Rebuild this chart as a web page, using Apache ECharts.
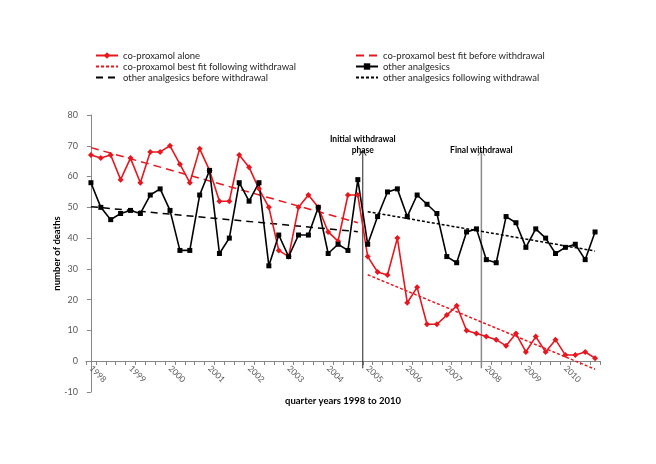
<!DOCTYPE html>
<html>
<head>
<meta charset="utf-8">
<script src="https://cdn.jsdelivr.net/npm/echarts@6/dist/echarts.min.js"></script>
<style>html,body{margin:0;padding:0;background:#fff;}#c{width:656px;height:464px;}</style>
</head>
<body>
<div id="c"></div>
<script>
const years = ['1998','1999','2000','2001','2002','2003','2004','2005','2006','2007','2008','2009','2010'];
const quarters = ['Q1','Q2','Q3','Q4'];
const categories = years.flatMap(y => quarters.map(q => y + ' ' + q));

const coproxamolAlone = [67,66,67,59,66,58,68,68,70,64,58,69,62,52,52,67,63,56,50,36,34,50,54,50,42,39,54,54,
  34,29,28,40,19,24,12,12,15,18,10,9,8,7,5,9,3,8,3,7,2,2,3,1];
const otherAnalgesics = [58,50,46,48,49,48,54,56,49,36,36,54,62,35,40,58,52,58,31,41,34,41,41,50,35,38,36,59,
  38,47,55,56,47,54,51,48,34,32,42,43,33,32,47,45,37,43,40,35,37,38,33,42];

// trend-line end points (quarter index, value)
const fitXBefore = [0, 27];
const fitXAfter = [28, 51];
const coproxFitBefore = [69.4, 45.0];
const coproxFitAfter = [28.1, -2.6];
const otherFitBefore = [50.2, 42.1];
const otherFitAfter = [48.6, 35.8];

// withdrawal markers (position between quarters, bottom & top value)
const initialX = 27.5, finalX = 39.5;
const markerY = [-2.3, 67.6];
const initialLabel = 'Initial withdrawal\nphase';
const finalLabel = 'Final withdrawal';

const FONT = 'Lato';
const RED = '#E8161E';
const pairs = (xs, ys) => xs.map((x, i) => [x, ys[i]]);

function marker(x, label, color, width) {
  return {
    type: 'line', xAxisIndex: 1, silent: true, z: 1,
    lineStyle: { color: color, width: width },
    symbol: 'none',
    data: [
      { value: [x, markerY[0]], symbol: 'none' },
      { value: [x, markerY[1]], symbol: 'path://M0,7 L5,0 L10,7', symbolSize: [7, 5],
        itemStyle: { color: 'rgba(0,0,0,0)', borderColor: color, borderWidth: 1 },
        label: { show: true, position: 'top', distance: -6, formatter: label, color: '#000',
          fontFamily: FONT, fontWeight: 'bold', fontSize: 8.5, lineHeight: 11, align: 'center' } }
    ]
  };
}

const noSym = { color: 'rgba(0,0,0,0)', borderColor: 'rgba(0,0,0,0)', borderWidth: 0, opacity: 0 };
const chart = echarts.init(document.getElementById('c'), null, { renderer: 'canvas' });
const legendText = { fontFamily: FONT, fontSize: 9.5, color: '#262626', lineHeight: 11 };
chart.setOption({
  animation: false,
  backgroundColor: '#fff',
  legend: [
    { left: 95, top: 50, padding: 0, orient: 'vertical', itemWidth: 22, itemHeight: 8, itemGap: 0, textStyle: legendText,
      data: ['co-proxamol alone',
        { name: 'co-proxamol best fit following withdrawal', itemStyle: noSym },
        { name: 'other analgesics before withdrawal', itemStyle: noSym }] },
    { left: 355, top: 50, padding: 0, orient: 'vertical', itemWidth: 22, itemHeight: 8, itemGap: 0, textStyle: legendText,
      data: [{ name: 'co-proxamol best fit before withdrawal', itemStyle: noSym },
        'other analgesics',
        { name: 'other analgesics following withdrawal', itemStyle: noSym }] }
  ],
  grid: { left: 86, right: 56, top: 115, bottom: 72, containLabel: false, outerBoundsMode: 'none' },
  xAxis: [
    { type: 'category', data: categories, boundaryGap: true, position: 'bottom', offset: -31,
      axisLine: { onZero: false, lineStyle: { color: '#868686' } },
      axisTick: { show: true, interval: 0, length: 4, lineStyle: { color: '#868686' } },
      axisLabel: { interval: 0, rotate: -45, margin: 6, fontFamily: FONT, fontSize: 8.5, color: '#595959',
        formatter: (v, i) => (i % 4 === 0 ? years[i / 4] : '') },
      name: 'quarter years 1998 to 2010', nameLocation: 'middle', nameGap: 35, nameMoveOverlap: false,
      nameTextStyle: { fontFamily: FONT, fontWeight: 'bold', fontSize: 9.5, color: '#000' } },
    { type: 'value', min: -0.5, max: 51.5, show: false }
  ],
  yAxis: {
    type: 'value', min: -10, max: 80, interval: 10,
    axisLine: { show: true, lineStyle: { color: '#868686' } },
    axisTick: { show: true, length: 4, lineStyle: { color: '#868686' } },
    splitLine: { show: false },
    axisLabel: { fontFamily: FONT, fontSize: 9, color: '#595959', margin: 8 },
    name: 'number of deaths', nameLocation: 'middle', nameGap: 24, nameMoveOverlap: false,
    nameTextStyle: { fontFamily: FONT, fontWeight: 'bold', fontSize: 9.5, color: '#000' }
  },
  series: [
    { name: 'co-proxamol alone', type: 'line', data: coproxamolAlone, z: 4,
      symbol: 'diamond', symbolSize: 6, lineStyle: { color: RED, width: 1.6 }, itemStyle: { color: RED } },
    { name: 'co-proxamol best fit before withdrawal', type: 'line', xAxisIndex: 1, z: 3,
      data: pairs(fitXBefore, coproxFitBefore), symbol: 'none',
      lineStyle: { color: RED, width: 1.5, type: [8, 5] }, itemStyle: { color: RED } },
    { name: 'co-proxamol best fit following withdrawal', type: 'line', xAxisIndex: 1, z: 3,
      data: pairs(fitXAfter, coproxFitAfter), symbol: 'none',
      lineStyle: { color: RED, width: 1.5, type: [3, 2] }, itemStyle: { color: RED } },
    { name: 'other analgesics', type: 'line', data: otherAnalgesics, z: 4,
      symbol: 'rect', symbolSize: 5, lineStyle: { color: '#000', width: 1.6 }, itemStyle: { color: '#000' } },
    { name: 'other analgesics before withdrawal', type: 'line', xAxisIndex: 1, z: 3,
      data: pairs(fitXBefore, otherFitBefore), symbol: 'none',
      lineStyle: { color: '#000', width: 1.5, type: [7, 5] }, itemStyle: { color: '#000' } },
    { name: 'other analgesics following withdrawal', type: 'line', xAxisIndex: 1, z: 3,
      data: pairs(fitXAfter, otherFitAfter), symbol: 'none',
      lineStyle: { color: '#000', width: 1.5, type: [3, 2] }, itemStyle: { color: '#000' } },
    marker(initialX, initialLabel, '#222', 1),
    marker(finalX, finalLabel, '#8a8a8a', 1.5)
  ]
});
</script>
</body>
</html>
